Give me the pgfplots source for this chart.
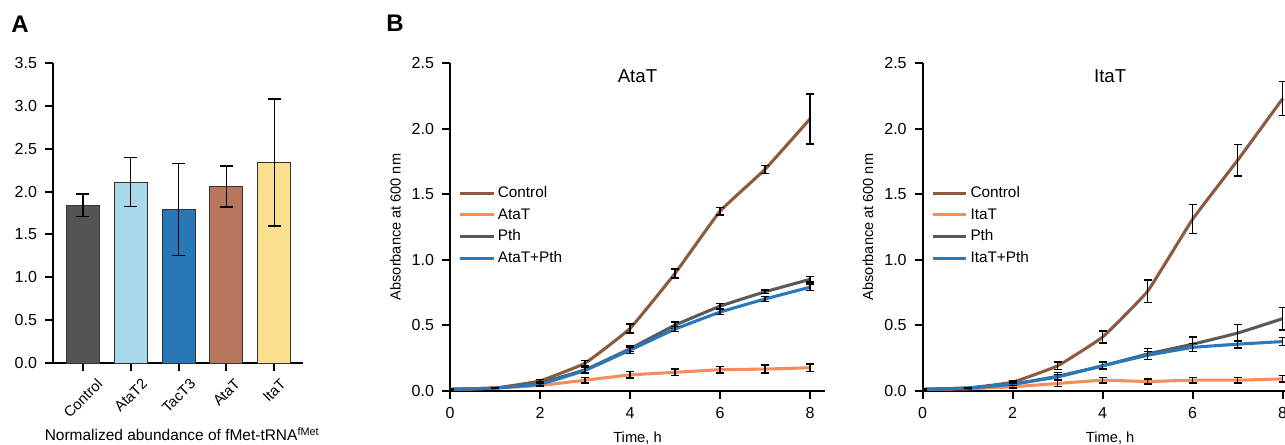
\documentclass[border=0pt]{standalone}
\usepackage{pgfplots}
\pgfplotsset{compat=1.18}
\usepackage{fontspec}
\setmainfont{Liberation Sans}

\definecolor{cCtrl}{HTML}{8C5A3C}
\definecolor{cTox}{HTML}{F58C5A}
\definecolor{cPth}{HTML}{5A5A5A}
\definecolor{cBoth}{HTML}{2878BE}
\definecolor{bCtrl}{HTML}{545454}
\definecolor{bAtaT2}{HTML}{A9D9E9}
\definecolor{bTacT3}{HTML}{2878B8}
\definecolor{bAtaT}{HTML}{B8765C}
\definecolor{bItaT}{HTML}{FBDF8E}

\pgfplotsset{
  myaxis/.style={
    scale only axis,
    anchor=south west,
    axis x line*=bottom, axis y line*=left,
    axis line style={line width=1.5pt, black},
    tick align=outside,
    major tick length=6pt,
    tick style={line width=1.5pt, black},
    ticklabel style={font=\fontsize{12}{14}\selectfont},
    /pgf/number format/assume math mode=true,
    y tick label style={xshift=-2.5pt, /pgf/number format/fixed, /pgf/number format/fixed zerofill, /pgf/number format/precision=1},
  },
  ebars/.style={
    error bars/y dir=both, error bars/y explicit,
    error bars/error bar style={line width=1.1pt, black, solid},
    error bars/error mark options={rotate=90, line width=1.1pt, black, mark size=#1, solid},
  },
  ser/.style={line width=2.3pt, no markers, smooth, tension=0.2, ebars=3pt},
  growth/.style={
    myaxis,
    width=281.25pt, height=245.55pt,
    xmin=0, xmax=8.333, ymin=0, ymax=2.5,
    xtick={0,2,4,6,8}, ytick={0,0.5,...,2.5},
    x tick label style={yshift=-3pt},
    title style={at={(axis description cs:0.5,0.935)}, anchor=center, font=\fontsize{14}{16}\selectfont},
    ylabel={Absorbance at 600 nm},
    y label style={at={([xshift=-41pt]axis description cs:0,0.5)}, anchor=center, font=\fontsize{10.9}{12}\selectfont},
    xlabel={Time, h},
    x label style={at={([yshift=-30.5pt]axis description cs:0.5,0)}, anchor=north, inner sep=0pt, font=\fontsize{11}{12}\selectfont},
    legend style={draw=none, fill=none, at={(0.012,0.64)}, anchor=north west,
      font=\fontsize{11.5}{13}\selectfont, row sep=2.5pt, cells={anchor=west}},
    legend image code/.code={\draw[#1, line width=2.3pt] (0pt,0pt) -- (25pt,0pt);},
  },
}

\begin{document}
\begin{tikzpicture}
\useasboundingbox (0,0) rectangle (963.75pt,333pt);
\clip (0,0) rectangle (963.75pt,333pt);

\node[font=\bfseries\fontsize{18}{20}\selectfont] at (15pt,315pt) {A};
\node[font=\bfseries\fontsize{18}{20}\selectfont] at (296.25pt,315.75pt) {B};

% A: bar chart
\begin{axis}[myaxis, at={(39.75pt,60.75pt)},
  width=187.5pt, height=225pt,
  ymin=0, ymax=3.5, ytick={0,0.5,...,3.5},
  xmin=-0.625, xmax=4.6, xtick={0,1,2,3,4},
  xticklabels={\rotatebox{45}{Control},\rotatebox{45}{AtaT2},\rotatebox{45}{TacT3},\rotatebox{45}{AtaT},\rotatebox{45}{ItaT}},
  x tick label style={anchor=north, inner sep=2pt, yshift=-3pt, font=\fontsize{11}{13}\selectfont},
  ybar, bar width=24.75pt,
  xlabel={Normalized abundance of fMet-tRNA\textsuperscript{fMet}},
  x label style={at={([xshift=3pt,yshift=-48pt]axis description cs:0.5,0)}, anchor=north, inner sep=0pt, font=\fontsize{11.6}{13}\selectfont},
]
\addplot[fill=bCtrl, draw=black!80, line width=0.75pt, bar shift=0pt, ebars=4.9pt] coordinates {(0,1.84) +- (0,0.13)};
\addplot[fill=bAtaT2, draw=black!80, line width=0.75pt, bar shift=0pt, ebars=4.9pt] coordinates {(1,2.11) +- (0,0.285)};
\addplot[fill=bTacT3, draw=black!80, line width=0.75pt, bar shift=0pt, ebars=4.9pt] coordinates {(2,1.79) +- (0,0.535)};
\addplot[fill=bAtaT, draw=black!80, line width=0.75pt, bar shift=0pt, ebars=4.9pt] coordinates {(3,2.06) +- (0,0.24)};
\addplot[fill=bItaT, draw=black!80, line width=0.75pt, bar shift=0pt, ebars=4.9pt] coordinates {(4,2.34) +- (0,0.74)};
\end{axis}

% B left: AtaT
\begin{axis}[growth, at={(337.5pt,40pt)}, title={AtaT}]
\addplot[cCtrl, ser] coordinates {
  (0,0.01) +- (0,0.004) (1,0.02) +- (0,0.004) (2,0.075) +- (0,0.01) (3,0.21) +- (0,0.02)
  (4,0.475) +- (0,0.035) (5,0.895) +- (0,0.035) (6,1.37) +- (0,0.03) (7,1.69) +- (0,0.03) (8,2.075) +- (0,0.19)};
\addlegendentry{Control}
\addplot[cTox, ser] coordinates {
  (0,0.01) +- (0,0.004) (1,0.02) +- (0,0.004) (2,0.04) +- (0,0.01) (3,0.08) +- (0,0.02)
  (4,0.12) +- (0,0.025) (5,0.14) +- (0,0.025) (6,0.16) +- (0,0.025) (7,0.165) +- (0,0.03) (8,0.175) +- (0,0.03)};
\addlegendentry{AtaT}
\addplot[cPth, ser] coordinates {
  (0,0.01) +- (0,0.004) (1,0.02) +- (0,0.004) (2,0.06) +- (0,0.01) (3,0.16) +- (0,0.02)
  (4,0.32) +- (0,0.02) (5,0.50) +- (0,0.025) (6,0.645) +- (0,0.02) (7,0.755) +- (0,0.015) (8,0.85) +- (0,0.02)};
\addlegendentry{Pth}
\addplot[cBoth, ser] coordinates {
  (0,0.01) +- (0,0.004) (1,0.02) +- (0,0.004) (2,0.05) +- (0,0.01) (3,0.155) +- (0,0.02)
  (4,0.31) +- (0,0.025) (5,0.47) +- (0,0.02) (6,0.60) +- (0,0.02) (7,0.70) +- (0,0.02) (8,0.79) +- (0,0.025)};
\addlegendentry{AtaT+Pth}
\end{axis}

% B right: ItaT
\begin{axis}[growth, at={(692pt,40pt)}, title={ItaT}]
\addplot[cCtrl, ser] coordinates {
  (0,0.01) +- (0,0.004) (1,0.02) +- (0,0.004) (2,0.065) +- (0,0.01) (3,0.19) +- (0,0.03)
  (4,0.41) +- (0,0.045) (5,0.76) +- (0,0.085) (6,1.31) +- (0,0.11) (7,1.76) +- (0,0.12) (8,2.23) +- (0,0.13)};
\addlegendentry{Control}
\addplot[cTox, ser] coordinates {
  (0,0.01) +- (0,0.004) (1,0.015) +- (0,0.004) (2,0.03) +- (0,0.01) (3,0.055) +- (0,0.025)
  (4,0.08) +- (0,0.02) (5,0.07) +- (0,0.02) (6,0.08) +- (0,0.02) (7,0.08) +- (0,0.02) (8,0.09) +- (0,0.025)};
\addlegendentry{ItaT}
\addplot[cPth, ser] coordinates {
  (0,0.01) +- (0,0.004) (1,0.02) +- (0,0.004) (2,0.05) +- (0,0.01) (3,0.11) +- (0,0.03)
  (4,0.19) +- (0,0.03) (5,0.28) +- (0,0.04) (6,0.355) +- (0,0.055) (7,0.44) +- (0,0.065) (8,0.55) +- (0,0.085)};
\addlegendentry{Pth}
\addplot[cBoth, ser] coordinates {
  (0,0.01) +- (0,0.004) (1,0.02) +- (0,0.004) (2,0.05) +- (0,0.01) (3,0.105) +- (0,0.02)
  (4,0.19) +- (0,0.025) (5,0.27) +- (0,0.03) (6,0.33) +- (0,0.03) (7,0.355) +- (0,0.03) (8,0.375) +- (0,0.03)};
\addlegendentry{ItaT+Pth}
\end{axis}
\end{tikzpicture}
\end{document}
